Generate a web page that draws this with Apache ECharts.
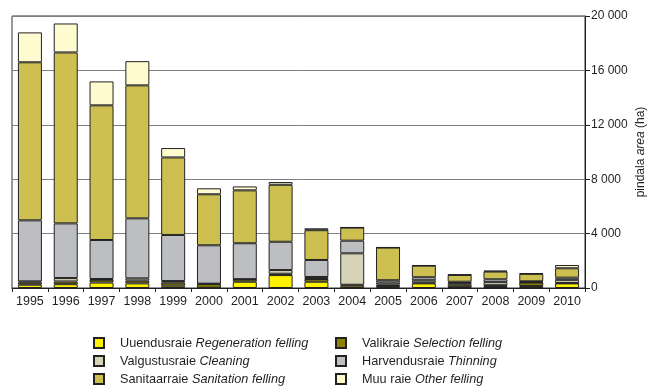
<!DOCTYPE html>
<html>
<head>
<meta charset="utf-8">
<script src="https://cdn.jsdelivr.net/npm/echarts@6/dist/echarts.min.js"></script>
<style>
  html, body { margin: 0; padding: 0; background: #fff; }
  #chart { width: 649px; height: 386px; }
</style>
</head>
<body>
<div id="chart"></div>
<script>
// Felling area by type of cutting, hectares per year
const years = ['1995','1996','1997','1998','1999','2000','2001','2002','2003','2004','2005','2006','2007','2008','2009','2010'];

const regeneration = [240, 280, 400, 340, 170, 20, 460, 950, 460, 170, 150, 340, 60, 140, 150, 340];
const selection    = [150, 200, 200, 200, 220, 270, 170, 100, 200, 70, 100, 60, 180, 60, 250, 30];
const cleaning     = [100, 250, 60, 170, 120, 30, 20, 270, 150, 2310, 150, 170, 120, 230, 40, 230];
const thinning     = [4485, 4020, 2870, 4410, 3390, 2820, 2640, 2080, 1250, 930, 170, 220, 100, 210, 50, 160];
const sanitation   = [11620, 12570, 9900, 9780, 5700, 3750, 3890, 4190, 2190, 960, 2400, 850, 500, 570, 550, 690];
const other        = [2200, 2130, 1760, 1780, 690, 440, 290, 200, 140, 20, 20, 30, 40, 60, 40, 240];

const yTicks = [0, 4000, 8000, 12000, 16000, 20000];

const seriesDefs = [
  { id: 'reg', et: 'Uuendusraie', en: 'Regeneration felling', data: regeneration, color: '#FFF200' },
  { id: 'sel', et: 'Valikraie', en: 'Selection felling', data: selection, color: '#8C8400' },
  { id: 'cle', et: 'Valgustusraie', en: 'Cleaning', data: cleaning, color: '#D6D3B6' },
  { id: 'thi', et: 'Harvendusraie', en: 'Thinning', data: thinning, color: '#BDBEC2' },
  { id: 'san', et: 'Sanitaarraie', en: 'Sanitation felling', data: sanitation, color: '#CDC050' },
  { id: 'oth', et: 'Muu raie', en: 'Other felling', data: other, color: '#FFFBD0' }
];

const FONT = 'Liberation Sans, Arial, sans-serif';
const INK = '#231f20';

const nameOf = d => d.et + ' ' + d.en;
const byId = {};
seriesDefs.forEach(d => { byId[d.id] = d; });

const legendText = {
  fontFamily: FONT,
  fontSize: 12.7,
  color: INK,
  lineHeight: 14,
  padding: [0, 0, 0, 11],
  rich: {
    it: { fontStyle: 'italic', fontFamily: FONT, fontSize: 12.7, color: INK }
  }
};
const legendFormatter = name => {
  const d = seriesDefs.find(s => nameOf(s) === name);
  return d.et + ' {it|' + d.en + '}';
};
const makeLegend = (ids, left) => ({
  orient: 'vertical',
  left: left,
  top: 336,
  icon: 'rect',
  itemWidth: 10,
  itemHeight: 10,
  itemGap: 4,
  padding: 0,
  selectedMode: false,
  data: ids.map(id => nameOf(byId[id])),
  formatter: legendFormatter,
  textStyle: legendText
});

const chart = echarts.init(document.getElementById('chart'), null, { renderer: 'canvas' });

chart.setOption({
  animation: false,
  backgroundColor: '#ffffff',
  grid: {
    left: 12, right: 64, top: 16, bottom: 98,
    outerBoundsMode: 'none',
    containLabel: false,
    show: true, borderColor: '#333', borderWidth: 1
  },
  legend: [
    makeLegend(['reg', 'cle', 'san'], 93),
    makeLegend(['sel', 'thi', 'oth'], 335)
  ],
  xAxis: {
    type: 'category',
    data: years,
    axisLine: { lineStyle: { color: INK, width: 1 } },
    axisTick: { show: true, inside: false, length: 4, lineStyle: { color: INK } },
    axisLabel: {
      interval: 0,
      hideOverlap: false,
      color: INK, fontSize: 12.5, margin: 7,
      fontFamily: FONT
    }
  },
  yAxis: {
    type: 'value',
    position: 'right',
    min: yTicks[0],
    max: yTicks[yTicks.length - 1],
    interval: 4000,
    name: 'pindala {it|area} (ha)',
    nameLocation: 'middle',
    nameRotate: 90,
    nameGap: 50,
    nameMoveOverlap: false,
    nameTextStyle: {
      color: INK, fontSize: 12,
      fontFamily: FONT,
      rich: { it: { fontStyle: 'italic', fontSize: 12, color: INK, fontFamily: FONT } }
    },
    axisLine: { show: true, lineStyle: { color: INK, width: 1 } },
    axisTick: { show: true, inside: false, length: 5, lineStyle: { color: INK } },
    axisLabel: {
      color: INK, fontSize: 12, margin: 6,
      fontFamily: FONT,
      formatter: v => v === 0 ? '0' : String(v).replace(/\B(?=(\d{3})+(?!\d))/g, ' ')
    },
    splitLine: { show: true, lineStyle: { color: '#7f7f7f', width: 1 } }
  },
  series: seriesDefs.map(d => ({
    type: 'bar',
    name: nameOf(d),
    stack: 'total',
    barWidth: 24,
    data: d.data,
    itemStyle: { color: d.color, borderColor: '#222', borderWidth: 1 }
  }))
});
</script>
</body>
</html>
